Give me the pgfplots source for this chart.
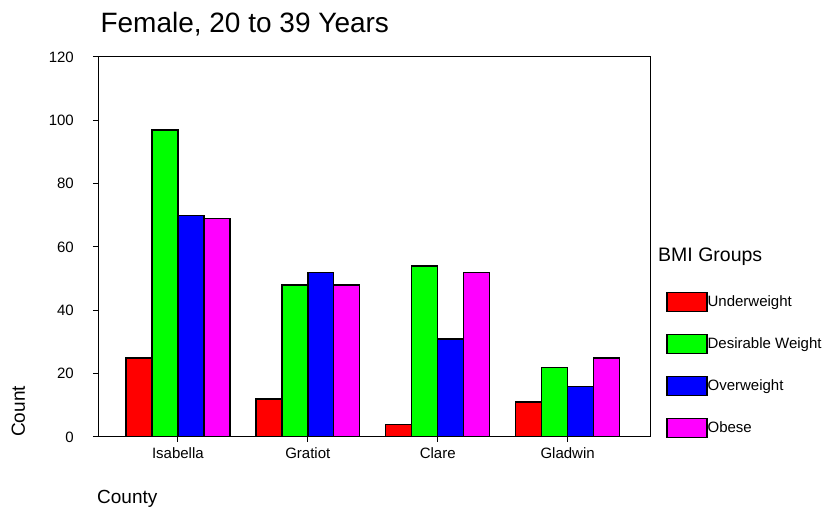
\documentclass[border=0pt]{standalone}
\usepackage{pgfplots}
\pgfplotsset{compat=1.18}
\usepackage{fontspec}
\setmainfont{Liberation Sans}
\definecolor{bmired}{RGB}{255,0,0}
\definecolor{bmigreen}{RGB}{0,255,0}
\definecolor{bmiblue}{RGB}{0,0,255}
\definecolor{bmimag}{RGB}{255,0,255}
\newcommand{\fs}[1]{\fontsize{#1}{#1}\selectfont}

\begin{document}
\begin{tikzpicture}
\begin{axis}[
    scale only axis,
    width=552pt, height=380pt,
    at={(0,0)}, anchor=south west,
    xmin=-0.615, xmax=3.634,
    ymin=0, ymax=120,
    ytick={0,20,...,120},
    xtick={0,1,2,3},
    xticklabels={Isabella, Gratiot, Clare, Gladwin},
    tick align=outside,
    xtick pos=bottom, ytick pos=left,
    major tick length=5pt,
    tick style={black, line width=1pt},
    axis line style={line width=1pt},
    ticklabel style={font=\fs{15pt}},
    /pgf/number format/assume math mode=true,
    yticklabel style={inner sep=0pt, xshift=-19pt},
    xticklabel style={inner sep=0pt, yshift=-5pt},
    ybar=0pt, bar width=0.2,
    every axis plot/.append style={draw=black, line width=1.4pt},
    legend style={
        at={(axis description cs:1.029,0.383)}, anchor=north west,
        draw=none, fill=none, inner sep=0pt,
        row sep=21.6pt, column sep=0pt,
        font=\fs{15pt},
        nodes={inner sep=0pt},
        cells={anchor=west},
    },
    legend image code/.code={
        \draw[#1, line width=1.4pt] (0pt,-9.5pt) rectangle (40pt,9.5pt);
    },
]
\addplot[fill=bmired]   coordinates {(0,25) (1,12) (2,4)  (3,11)};
\addplot[fill=bmigreen] coordinates {(0,97) (1,48) (2,54) (3,22)};
\addplot[fill=bmiblue]  coordinates {(0,70) (1,52) (2,31) (3,16)};
\addplot[fill=bmimag]   coordinates {(0,69) (1,48) (2,52) (3,25)};
\legend{Underweight, Desirable Weight, Overweight, Obese}
\draw[line width=2pt] (rel axis cs:0,1) -- (rel axis cs:0,0) -- (rel axis cs:1,0);
\end{axis}
\node[anchor=base west, font=\fs{28pt}] at (-1pt,404pt) {Female, 20 to 39 Years};
\node[anchor=base west, rotate=90, font=\fs{19pt}, inner sep=0pt] at (-73pt,0pt) {Count};
\node[anchor=base west, font=\fs{19pt}, inner sep=0pt] at (-1pt,-67pt) {County};
\node[anchor=base west, font=\fs{19.5pt}, inner sep=0pt] at (560pt,175pt) {BMI Groups};
\pgfresetboundingbox
\path[use as bounding box] (-98pt,-73pt) rectangle (729pt,437pt);
\end{tikzpicture}
\end{document}
